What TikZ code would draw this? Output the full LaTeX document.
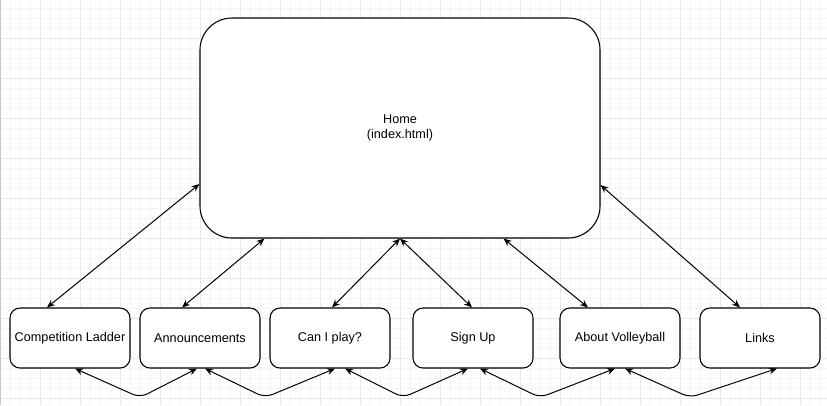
\documentclass[tikz,border=0pt]{standalone}
\usepackage{fontspec}
\setmainfont{Liberation Sans}
\usetikzlibrary{positioning,calc,arrows.meta}

\tikzset{
  page/.style={draw, line width=0.8pt, fill=white, rounded corners=7.5pt,
    minimum width=90pt, minimum height=45pt, inner sep=1pt,
    font=\fontsize{9.5}{11.5}\selectfont},
  mainpage/.style={page, rounded corners=24pt, minimum width=300pt,
    minimum height=165pt, align=center},
  link/.style={line width=0.75pt,
    {Stealth[length=6pt,width=5pt]}-{Stealth[length=6pt,width=5pt]}},
  sidelink/.style={link, rounded corners=6pt},
  gridminor/.style={draw=black!4, line width=0.75pt},
  gridmajor/.style={draw=black!9, line width=0.75pt},
}

\begin{document}
\begin{tikzpicture}[x=0.75pt, y=-0.75pt]
  \useasboundingbox (0,0) rectangle (827,405);
  \fill[white] (0,0) rectangle (827,405);
  % grid
  \foreach \gx in {10,20,...,820}
    \draw[gridminor] (\gx,0) -- (\gx,405);
  \foreach \gy in {8,18,...,398}
    \draw[gridminor] (0,\gy) -- (827,\gy);
  \foreach \gx in {40,80,...,800}
    \draw[gridmajor] (\gx,0) -- (\gx,405);
  \foreach \gy in {38,78,...,398}
    \draw[gridmajor] (0,\gy) -- (827,\gy);
  \draw[black!22, line width=0.75pt] (0.5,0) -- (0.5,405);

  % pages
  \node[mainpage] (home) at (400,128) {Home\\(index.html)};
  \node[page] (ladder) at (70,338) {Competition Ladder};
  \node[page, on grid, right=97.5pt of ladder] (news) {Announcements};
  \node[page, on grid, right=97.5pt of news] (canplay) {Can I play?};
  \node[page, on grid, right=107.25pt of canplay] (signup) {Sign Up};
  \node[page, on grid, right=110.25pt of signup] (aboutvb) {About Volleyball};
  \node[page, on grid, right=105pt of aboutvb] (links) {Links};

  % home <-> pages
  \draw[link] ($(home.west)+(0,56)$) -- ($(ladder.north)+(-23,0)$);
  \draw[link] ($(home.south west)+(65,0)$) -- ($(news.north)+(-18,0)$);
  \draw[link] (home.south) -- ($(canplay.north)+(2,0)$);
  \draw[link] (home.south) -- ($(signup.north)+(-1,0)$);
  \draw[link] ($(home.south east)+(-97,0)$) -- ($(aboutvb.north)+(-32,0)$);
  \draw[link] ($(home.east)+(0,57)$) -- ($(links.north)+(-20,0)$);

  % page <-> page
  \draw[sidelink] ($(ladder.south)+(5,0)$) -- ($(ladder.south)+(70,29)$)
    -- ($(news.south)+(-3,0)$);
  \draw[sidelink] ($(news.south)+(5,0)$) -- ($(news.south)+(65,29)$)
    -- ($(canplay.south)+(5,0)$);
  \draw[sidelink] ($(canplay.south)+(15,0)$) -- ($(canplay.south)+(73,29)$)
    -- ($(signup.south)+(-5,0)$);
  \draw[sidelink] ($(signup.south)+(7,0)$) -- ($(signup.south)+(67,29)$)
    -- ($(aboutvb.south)+(-5,0)$);
  \draw[sidelink] ($(aboutvb.south)+(5,0)$) -- ($(aboutvb.south)+(70,29)$)
    -- ($(links.south)+(17,0)$);
\end{tikzpicture}
\end{document}
